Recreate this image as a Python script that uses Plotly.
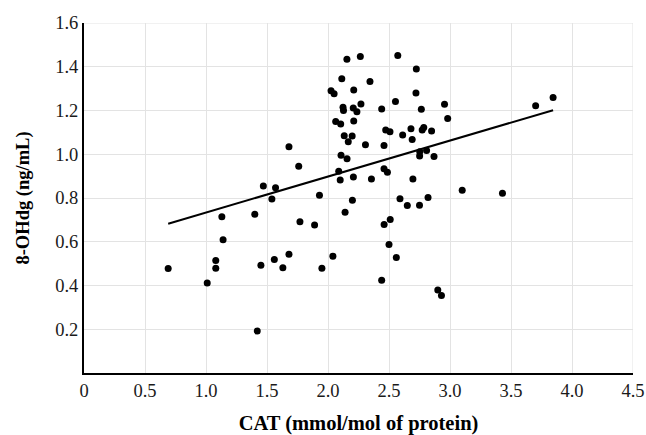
import numpy as np
import plotly.graph_objects as go

cat_values = [0.69, 1.01, 1.08, 1.08, 1.14, 1.13, 1.40, 1.47, 1.57, 1.54, 1.45, 1.42, 1.56, 1.63, 1.68,
              1.77, 1.89, 1.93, 1.95, 2.04, 2.14, 2.20, 2.10, 2.46, 2.51, 2.50, 2.56, 2.44, 2.59, 2.65,
              2.75, 2.82, 3.10, 3.43, 2.90, 2.93, 1.68, 1.76, 2.155, 2.265, 2.113, 2.211, 2.025, 2.05,
              2.123, 2.127, 2.207, 2.237, 2.27, 2.063, 2.104, 2.211, 2.133, 2.198, 2.166, 2.107, 2.156,
              2.088, 2.208, 2.572, 2.724, 2.344, 2.721, 2.44, 2.553, 2.765, 2.955, 2.981, 2.473, 2.508,
              2.68, 2.772, 2.785, 2.849, 2.612, 2.69, 2.307, 2.459, 2.752, 2.751, 2.808, 2.869, 2.459,
              2.487, 2.356, 2.696, 3.702, 3.845]
ohdg_values = [0.478, 0.412, 0.479, 0.514, 0.609, 0.714, 0.726, 0.855, 0.847, 0.796, 0.493, 0.192, 0.519,
               0.481, 0.543, 0.691, 0.677, 0.813, 0.479, 0.534, 0.735, 0.790, 0.882, 0.679, 0.702, 0.588,
               0.528, 0.424, 0.797, 0.766, 0.767, 0.802, 0.836, 0.822, 0.380, 0.354, 1.034, 0.945, 1.434,
               1.447, 1.345, 1.294, 1.290, 1.277, 1.215, 1.200, 1.211, 1.194, 1.23, 1.150, 1.138, 1.152,
               1.085, 1.083, 1.057, 0.995, 0.980, 0.922, 0.896, 1.452, 1.390, 1.333, 1.280, 1.207, 1.241,
               1.206, 1.229, 1.164, 1.111, 1.103, 1.116, 1.111, 1.122, 1.106, 1.088, 1.067, 1.044, 1.040,
               1.011, 0.992, 1.017, 0.990, 0.934, 0.918, 0.887, 0.887, 1.222, 1.260]

# trend line
trend_slope = 0.1645
trend_intercept = 0.569

x_tick_vals = [0, 0.5, 1.0, 1.5, 2.0, 2.5, 3.0, 3.5, 4.0, 4.5]
x_tick_text = ["0", "0.5", "1.0", "1.5", "2.0", "2.5", "3.0", "3.5", "4.0", "4.5"]
y_tick_vals = [0.2, 0.4, 0.6, 0.8, 1.0, 1.2, 1.4, 1.6]
y_tick_text = ["0.2", "0.4", "0.6", "0.8", "1.0", "1.2", "1.4", "1.6"]

x_arr = np.array(cat_values)
line_x = np.array([x_arr.min(), x_arr.max()])
line_y = trend_intercept + trend_slope * line_x

fig = go.Figure()
fig.add_trace(go.Scatter(x=cat_values, y=ohdg_values, mode="markers",
                         marker=dict(color="black", size=7), showlegend=False))
fig.add_trace(go.Scatter(x=line_x, y=line_y, mode="lines",
                         line=dict(color="black", width=2), showlegend=False))

font_family = "Liberation Serif"
fig.update_layout(
    width=646, height=435,
    margin=dict(l=84, r=13, t=23, b=62),
    paper_bgcolor="white", plot_bgcolor="white",
    font=dict(family=font_family, color="#1a1a1a", size=18),
    xaxis=dict(range=[0, 4.5], tickvals=x_tick_vals, ticktext=x_tick_text,
               showgrid=True, gridcolor="#e3e3e3", gridwidth=1,
               showline=True, linecolor="black", linewidth=2, zeroline=False,
               ticks="", tickfont=dict(size=18.5, family=font_family, color="#1a1a1a"),
               automargin=False,
               title=dict(text="<b>CAT (mmol/mol of protein)</b>", standoff=16,
                          font=dict(size=20.5, family=font_family, color="black"))),
    yaxis=dict(range=[0, 1.6], tickvals=y_tick_vals, ticktext=y_tick_text,
               showgrid=True, gridcolor="#e3e3e3", gridwidth=1,
               showline=True, linecolor="black", linewidth=2, zeroline=False,
               ticks="", tickfont=dict(size=18.5, family=font_family, color="#1a1a1a"),
               automargin=False,
               title=dict(text="<b>8-OHdg (ng/mL)</b>", standoff=21,
                          font=dict(size=18.5, family=font_family, color="black"))),
)
fig.add_shape(type="line", xref="x", yref="y", x0=4.5, x1=4.5, y0=0, y1=1.6,
              line=dict(color="#e3e3e3", width=1), layer="below")
fig.add_shape(type="line", xref="x", yref="y", x0=0, x1=4.5, y0=1.6, y1=1.6,
              line=dict(color="#e3e3e3", width=1), layer="below")

fig.write_html("out.html", config={"displayModeBar": False},
               post_script="document.body.style.margin='0';document.body.style.overflow='hidden';")
